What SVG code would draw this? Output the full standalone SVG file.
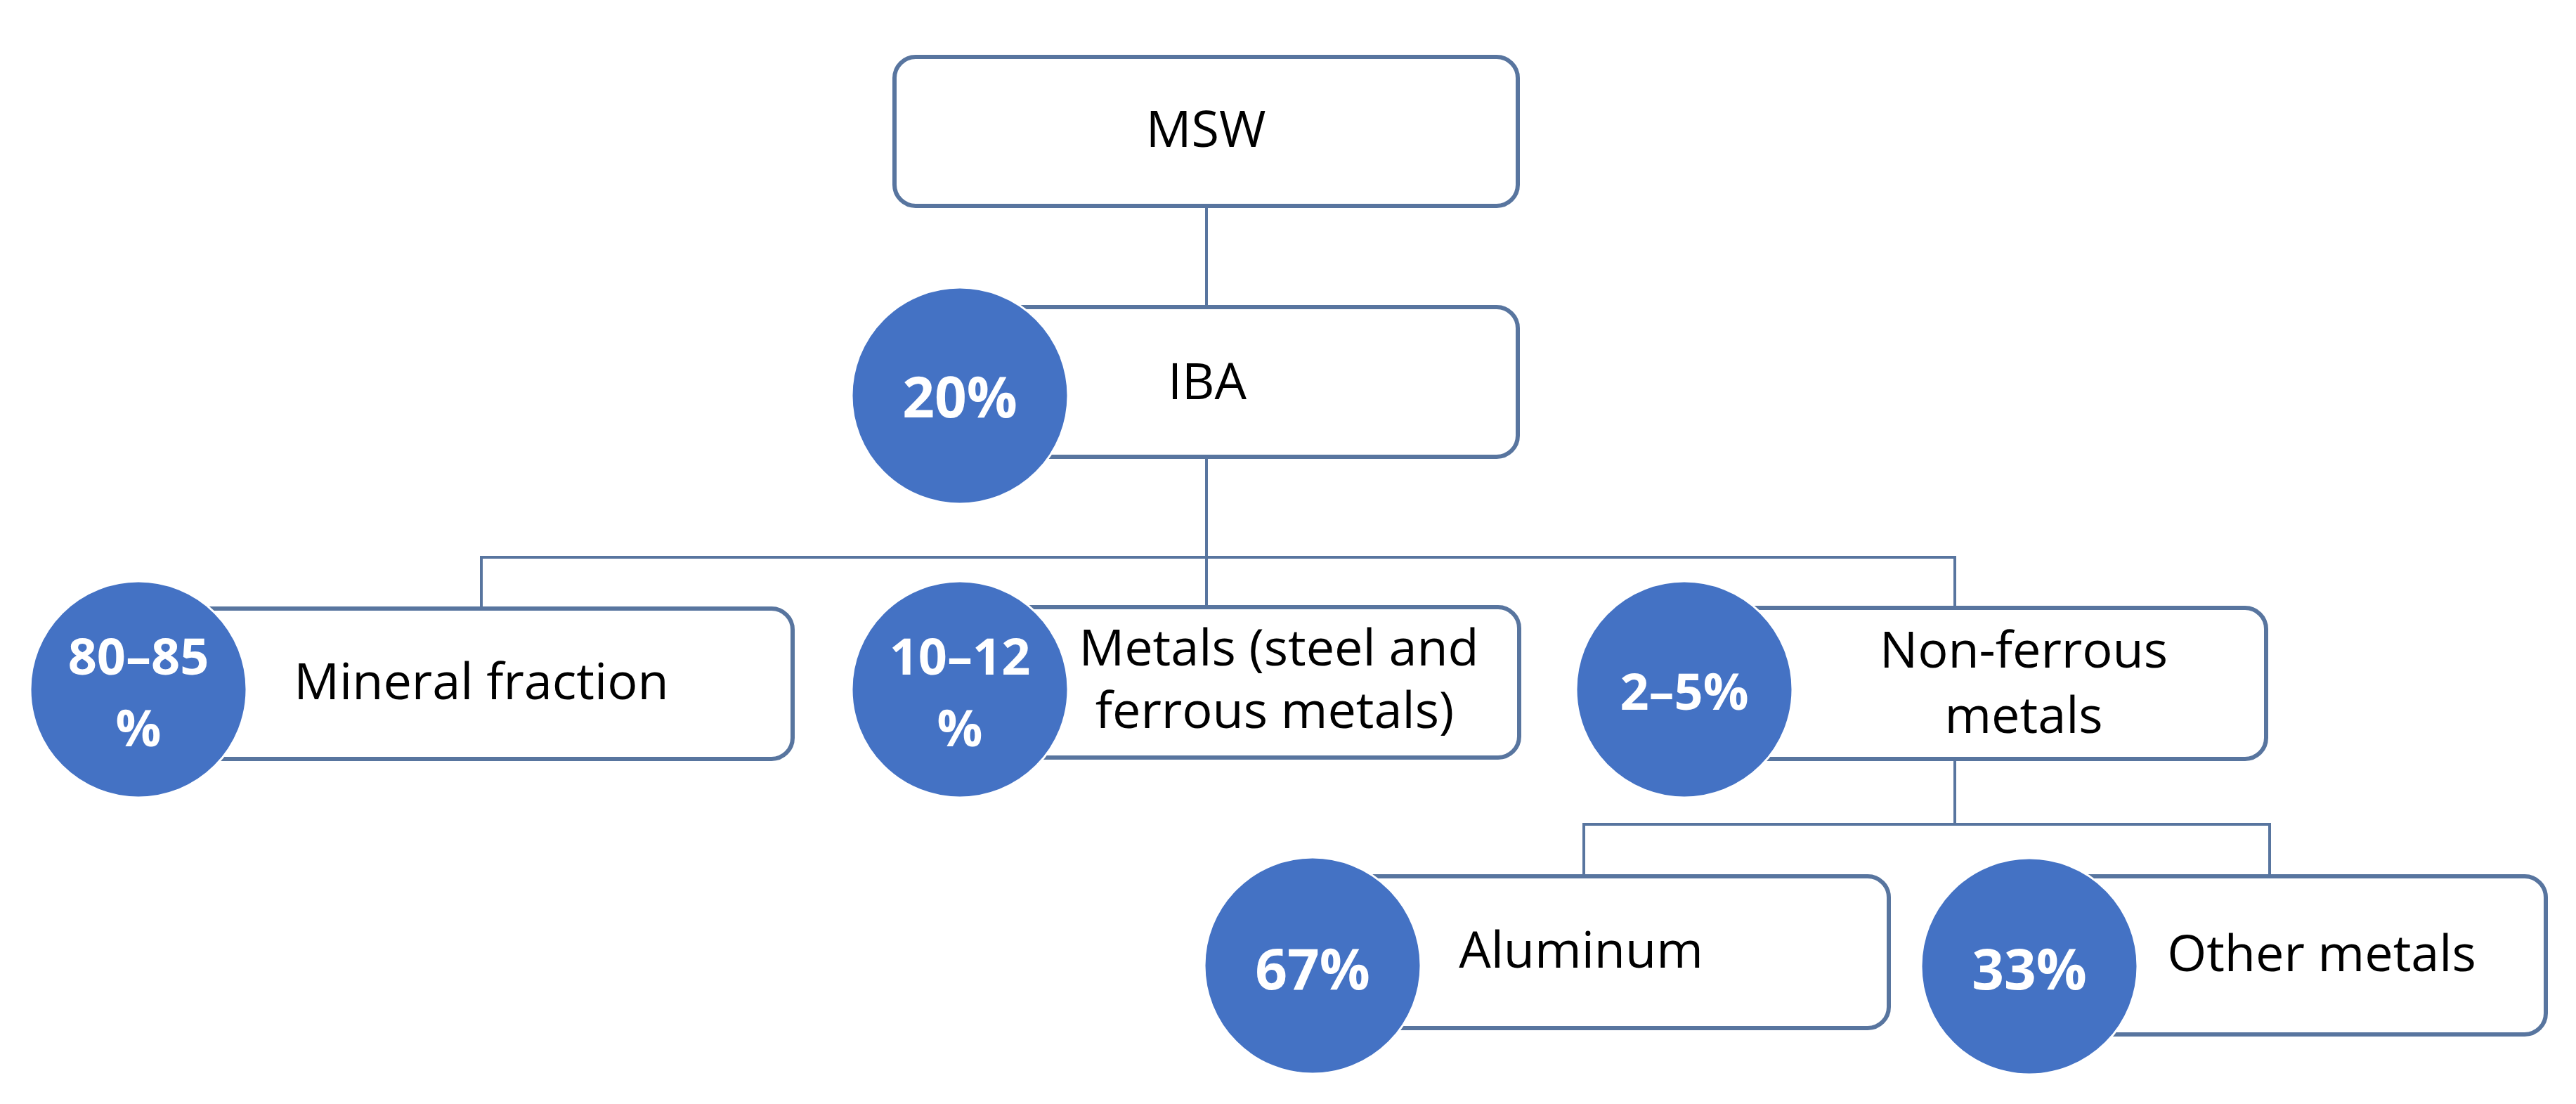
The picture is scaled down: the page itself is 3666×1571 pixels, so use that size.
<svg xmlns="http://www.w3.org/2000/svg" width="3666" height="1571" viewBox="0 0 3666 1571">
<style>
.box{fill:#ffffff;stroke:#58759f;stroke-width:6}
.conn{fill:none;stroke:#58759f;stroke-width:4}
.dot{fill:#4472c4;stroke:#ffffff;stroke-width:3}
.lbl{font-family:"Open Sans","Liberation Sans",sans-serif;font-size:72px;fill:#000000;text-anchor:middle}
.pct{font-family:"Open Sans","Liberation Sans",sans-serif;font-weight:bold;fill:#ffffff;text-anchor:middle}
.big{font-size:80px}
.sm{font-size:72px}
</style>
<rect width="3666" height="1571" fill="#ffffff"/>
<g id="connectors">
<path class="conn" d="M1717,293 V437"/>
<path class="conn" d="M1717,650 V793"/>
<path class="conn" d="M685,865 V793 H2782 V865"/>
<path class="conn" d="M1717,793 V865"/>
<path class="conn" d="M2782,1080 V1173"/>
<path class="conn" d="M2254,1247 V1173 H3230 V1247"/>
</g>
<g id="node-msw">
<rect class="box" x="1273" y="81" width="887" height="212" rx="30"/>
<text class="lbl" x="1716" y="209">MSW</text>
</g>
<g id="node-iba">
<rect class="box" x="1366" y="437" width="794" height="213" rx="30"/>
<circle class="dot" cx="1366" cy="563" r="154"/>
<text class="lbl" x="1718" y="568">IBA</text>
<text class="pct big" x="1366" y="594">20%</text>
</g>
<g id="node-mineral">
<rect class="box" x="197" y="866" width="931" height="214" rx="30"/>
<circle class="dot" cx="197" cy="981" r="154"/>
<text class="lbl" x="685" y="995">Mineral fraction</text>
<text class="pct sm" x="197" y="960">80–85</text>
<text class="pct sm" x="197" y="1062">%</text>
</g>
<g id="node-metals">
<rect class="box" x="1366" y="864" width="796" height="214" rx="30"/>
<circle class="dot" cx="1366" cy="981" r="154"/>
<text class="lbl" x="1820" y="947">Metals (steel and</text>
<text class="lbl" x="1814" y="1036">ferrous metals)</text>
<text class="pct sm" x="1366" y="960">10–12</text>
<text class="pct sm" x="1366" y="1062">%</text>
</g>
<g id="node-nonferrous">
<rect class="box" x="2397" y="865" width="828" height="215" rx="30"/>
<circle class="dot" cx="2397" cy="981" r="154"/>
<text class="lbl" x="2880" y="950">Non-ferrous</text>
<text class="lbl" x="2880" y="1043">metals</text>
<text class="pct sm" x="2397" y="1010">2–5%</text>
</g>
<g id="node-aluminum">
<rect class="box" x="1868" y="1247" width="820" height="216" rx="30"/>
<circle class="dot" cx="1868" cy="1374" r="154"/>
<text class="lbl" x="2250" y="1377">Aluminum</text>
<text class="pct big" x="1868" y="1408">67%</text>
</g>
<g id="node-other">
<rect class="box" x="2888" y="1247" width="735" height="225" rx="30"/>
<circle class="dot" cx="2888" cy="1375" r="154"/>
<text class="lbl" x="3304" y="1382">Other metals</text>
<text class="pct big" x="2888" y="1408">33%</text>
</g>
</svg>
